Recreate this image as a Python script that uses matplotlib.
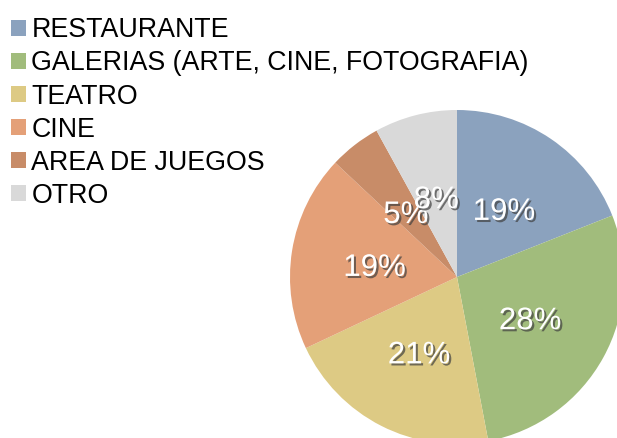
import matplotlib
matplotlib.use("Agg")
import matplotlib.pyplot as plt
import matplotlib.patheffects as pe

categories = ["RESTAURANTE", "GALERIAS (ARTE, CINE, FOTOGRAFIA)", "TEATRO",
              "CINE", "AREA DE JUEGOS", "OTRO"]
shares = [19, 28, 21, 19, 5, 8]
colors = ["#8ba2be", "#a1bc7c", "#ddca84", "#e4a078", "#c88c68", "#d9d9d9"]

plt.rcParams["font.family"] = ["Liberation Sans", "DejaVu Sans"]

W, H, DPI = 617, 438, 100
fig = plt.figure(figsize=(W / DPI, H / DPI), dpi=DPI)
ax = fig.add_axes([0, 0, 1, 1])

# pie centre and radius in pixels
cx, cy, R = 457, 277, 167

wedges, texts, autotexts = ax.pie(
    shares, colors=colors, startangle=90, counterclock=False,
    radius=1, center=(0, 0), autopct="%d%%", pctdistance=0.5,
    wedgeprops=dict(linewidth=0),
    textprops=dict(color="white", fontsize=22.5),
)
for t in autotexts:
    x, y = t.get_position()
    t.set_position((x, y - 4 / R))
    t.set_path_effects([
        pe.SimplePatchShadow(offset=(1.5, -1.5), shadow_rgbFace="#404040", alpha=0.7),
        pe.Normal(),
    ])

ax.set_xlim(-cx / R, (W - cx) / R)
ax.set_ylim(-(H - cy) / R, cy / R)
ax.set_aspect("auto")
ax.axis("off")

leg = ax.legend(
    wedges, categories, loc="upper left", bbox_to_anchor=(6 / W, 1 - 12 / H),
    bbox_transform=fig.transFigure, frameon=False, fontsize=19.3,
    handlelength=0.55, handleheight=0.55, handletextpad=0.2,
    labelspacing=0.265, borderaxespad=0.0, borderpad=0.2,
)

fig.savefig("out.png", dpi=DPI)
